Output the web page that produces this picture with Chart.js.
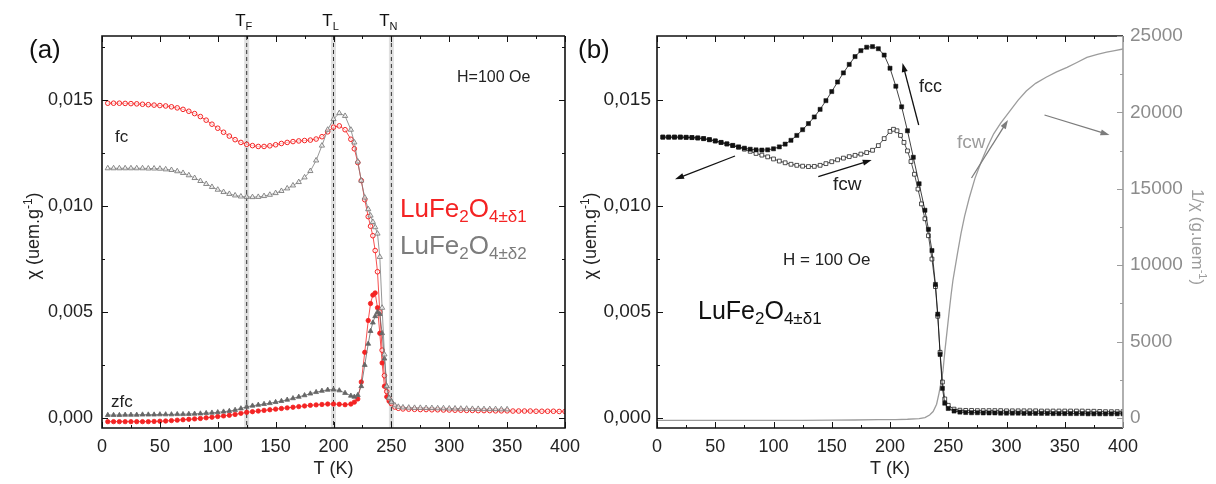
<!DOCTYPE html>
<html>
<head>
<meta charset="utf-8">
<script src="https://cdn.jsdelivr.net/npm/chart.js@4.4.1/dist/chart.umd.min.js"></script>
<style>
  body { margin: 0; background: #fff; width: 1216px; height: 484px; overflow: hidden; position: relative; }
  #wrapA { position: absolute; left: 0; top: 0; width: 600px; height: 484px; }
  #wrapB { position: absolute; left: 570px; top: 0; width: 646px; height: 484px; }
</style>
</head>
<body>
<div id="wrapA"><canvas id="chartA" width="600" height="484"></canvas></div>
<div id="wrapB"><canvas id="chartB" width="646" height="484"></canvas></div>
<script>
var FONT = '"Liberation Sans", Arial, sans-serif';
var RED = "#f42323";
var GREY = "#7c7c7c";
var GREY_LIGHT = "#9c9c9c";

// ---- panel (a): LuFe2O4 d1 (red) and d2 (grey), fc / zfc ----
var tempZfc = [5,10,15,20,25,30,35,40,45,50,55,60,65,70,75,80,85,90,95,100,105,110,115,120,125,130,135,140,145,150,155,160,165,170,175,180,185,190,195,200,205,210,215,
  218,221,224,227,230,232,234,236,238,240,242,244,246,248,250];
var tempFc1 = tempZfc.concat([253,256,260,265,270,275,280,285,290,295,300,305,310,315,320,325,330,335,340,345,350,355,360,365,370,375,380,385,390,395,400]);
var tempFc2 = tempZfc.concat([253,256,260,265,270,275,280,285,290,295,300,305,310,315,320,325,330,335,340,345,350]);

var chiFc1 = [.01485,.01485,.01485,.01484,.01483,.01482,.0148,.01478,.01476,.01474,.01472,.01468,.01463,.01456,.01447,.01436,.01422,.01405,.01386,.01367,
  .01348,.0133,.01313,.013,.01291,.01285,.01281,.01281,.01284,.01289,.01295,.013,.01304,.01307,.01309,.01311,.01316,.01327,.0135,.01372,.01378,.0136,.01315,
  .0127,.01205,.0112,.0103,.0095,.00905,.0086,.0079,.0069,.005,.0032,.002,.00125,.0009,.00068,
  .00052,.00046,.00043,.00042,.00041,.0004,.0004,.00039,.00039,.00038,.00038,.00037,.00037,.00036,.00036,.00035,.00035,.00035,.00034,.00034,.00034,
  .00033,.00033,.00033,.00033,.00032,.00032,.00032,.00032,.00031,.00031];
var chiFc2 = [.01178,.01178,.01178,.01178,.01178,.01178,.01178,.01177,.01177,.01176,.01173,.0117,.01164,.01156,.01145,.01132,.01118,.01104,.0109,.01077,
  .01066,.01057,.0105,.01045,.01043,.01042,.01043,.01047,.01053,.01061,.01071,.01083,.01097,.01113,.01135,.01165,.01215,.01285,.0136,.0141,.01438,.01425,.0136,
  .013,.0121,.0112,.0104,.00985,.00955,.00925,.009,.0087,.0076,.0052,.003,.0015,.00095,.00075,
  .0006,.00053,.0005,.00049,.00048,.00048,.00047,.00047,.00046,.00046,.00045,.00045,.00044,.00044,.00043,.00043,.00042,.00042,.00042,.00041,.00041];
var chiZfc1 = [-.00017,-.00017,-.00017,-.00017,-.00017,-.00017,-.00017,-.00017,-.00016,-.00015,-.00014,-.00012,-.0001,-.00008,-.00006,-.00004,-.00002,.00001,.00004,.00007,
  .0001,.00013,.00017,.00022,.00027,.0003,.00033,.00036,.00039,.00042,.00045,.00048,.00051,.00054,.00057,.0006,.00062,.00064,.00066,.00066,.00065,.00063,.00066,
  .00075,.0009,.0017,.0031,.0046,.0054,.0058,.0059,.0052,.004,.0026,.0015,.001,.0008,.0007];
var chiZfc2 = [.00014,.00014,.00014,.00015,.00015,.00015,.00016,.00016,.00016,.00017,.00017,.00017,.00018,.00018,.00019,.0002,.00021,.00023,.00025,.00027,
  .0003,.00033,.00038,.00045,.00053,.00058,.00062,.00066,.0007,.00075,.0008,.00086,.00093,.001,.00107,.00115,.00122,.00128,.00133,.00134,.0013,.00118,.00105,
  .001,.00108,.0015,.0025,.0035,.0041,.0045,.0048,.005,.0049,.004,.0028,.0015,.00095,.0008];

var transTemps = [125, 200, 250];
var transNames = ["F", "L", "N"];

// ---- panel (b): LuFe2O4 d1, fcc / fcw and 1/chi ----
var tempFcc = [5,10,15,20,25,30,35,40,45,50,55,60,65,70,75,80,85,90,95,100,105,110,115,120,125,130,135,140,145,150,155,160,165,170,175,180,185,190,195,200,205,210,215,220,225,230,
  233,236,239,241,243,245,247,250,255,260,
  265,270,275,280,285,290,295,300,305,310,315,320,325,330,335,340,345,350,355,360,365,370,375,380,385,390,395,400];
var chiFcc = [.01325,.01325,.01325,.01325,.01324,.01323,.01321,.01318,.01313,.01307,.013,.01293,.01286,.01279,.01273,.01268,.01265,.01264,.01265,.0127,
  .01279,.01292,.0131,.01333,.0136,.01389,.0142,.01456,.01497,.0154,.01585,.01628,.01668,.01705,.01733,.01749,.01752,.01742,.01712,.0165,.01565,.01468,.01355,.0123,.01105,.0098,
  .0089,.0079,.0063,.0049,.003,.0014,.0007,.00045,.00033,.00028,
  .00026,.00025,.00025,.00024,.00024,.00024,.00023,.00023,.00023,.00023,.00022,.00022,.00022,.00022,.00022,.00021,.00021,.00021,.00021,.00021,.00021,.0002,.0002,.0002,.0002,.0002,.0002,.0002];
var tempFcw = [5,10,15,20,25,30,35,40,45,50,55,60,65,70,75,80,85,90,95,100,105,110,115,120,125,130,135,140,145,150,155,160,165,170,175,180,185,190,195,200,
  203,206,209,212,215,218,221,224,227,230,233,236,239,241,243,245,247,250,255,260,
  265,270,275,280,285,290,295,300,305,310,315,320,325,330,335,340,345,350,355,360,365,370,375,380,385,390,395,400];
var chiFcw = [.01325,.01325,.01325,.01325,.01324,.01323,.01321,.01318,.01313,.01307,.013,.01293,.01285,.01277,.01268,.01258,.01248,.0124,.01232,.01222,
  .01212,.01204,.01197,.01192,.01188,.01186,.01187,.01192,.012,.01209,.01218,.01226,.01233,.01239,.01245,.01252,.01263,.01285,.01318,.01352,
  .01362,.01355,.01333,.013,.0126,.0121,.0115,.0108,.0101,.0094,.0086,.0075,.0062,.0048,.0031,.0017,.0009,.0006,.00042,.00037,
  .00036,.00036,.00035,.00035,.00035,.00035,.00035,.00034,.00034,.00034,.00034,.00034,.00034,.00033,.00033,.00033,.00033,.00033,.00033,.00033,.00033,.00032,.00032,.00031,.0003,.0003,.0003,.0003];
var tempInv = [0,25,50,75,100,125,150,170,190,205,215,225,230,234,237,240,242,244,245.5,247,249,251,252.5,254,256,258,261,264,268,273,278.5,284,289,295,303,310,317,325,334,343,352,360,369,378,386,393,400];
var invChi = [-150,-150,-150,-150,-150,-150,-140,-130,-110,-100,-80,-40,30,200,420,900,1600,2400,3100,4300,5700,7100,8100,9000,9900,10800,12100,13200,14400,15700,16800,17800,18600,19300,20100,20800,21400,21900,22300,22650,22950,23250,23600,23800,23950,24050,24150];

// axis ticks
var xLabels = [0,50,100,150,200,250,300,350,400];
var xTickMarks = [0,25,50,75,100,125,150,175,200,225,250,275,300,325,350,375,400];
var yLabels = [0, 0.005, 0.010, 0.015];
var yTickMarks = [0, 0.0025, 0.005, 0.0075, 0.010, 0.0125, 0.015, 0.0175];
var y2Labels = [0,5000,10000,15000,20000,25000];
var y2TickMarks = [0,2500,5000,7500,10000,12500,15000,17500,20000,22500,25000];

function pontos(ts, vs) {
    return ts.map((t, i) => ({ x: t, y: vs[i] }));
}

function richText(ctx, parts, x, y, align) {
    let w = 0;
    parts.forEach(p => { ctx.font = p[1] + "px " + FONT; w += ctx.measureText(p[0]).width; });
    let cx = align === "center" ? x - w / 2 : x;
    ctx.textAlign = "left";
    ctx.textBaseline = "alphabetic";
    parts.forEach(p => {
        ctx.font = p[1] + "px " + FONT;
        ctx.fillText(p[0], cx, y + (p[2] || 0));
        cx += ctx.measureText(p[0]).width;
    });
}

function rotatedText(ctx, parts, cx, cy, angle, size) {
    ctx.save();
    ctx.translate(cx, cy);
    ctx.rotate(angle);
    richText(ctx, parts, 0, size * 0.35, "center");
    ctx.restore();
}

function arrow(ctx, x1, y1, x2, y2, color) {
    const ang = Math.atan2(y2 - y1, x2 - x1);
    ctx.save();
    ctx.strokeStyle = color;
    ctx.fillStyle = color;
    ctx.lineWidth = 1.3;
    ctx.beginPath();
    ctx.moveTo(x1, y1);
    ctx.lineTo(x2 - 6 * Math.cos(ang), y2 - 6 * Math.sin(ang));
    ctx.stroke();
    ctx.beginPath();
    ctx.moveTo(x2, y2);
    ctx.lineTo(x2 - 9 * Math.cos(ang) + 3 * Math.sin(ang), y2 - 9 * Math.sin(ang) - 3 * Math.cos(ang));
    ctx.lineTo(x2 - 9 * Math.cos(ang) - 3 * Math.sin(ang), y2 - 9 * Math.sin(ang) + 3 * Math.cos(ang));
    ctx.closePath();
    ctx.fill();
    ctx.restore();
}

// frame with inward ticks, like the Origin plot
function drawFrame(chart, mirrorY, rightScale) {
    const ctx = chart.ctx, a = chart.chartArea, x = chart.scales.x, y = chart.scales.y;
    ctx.save();
    ctx.lineWidth = 1;
    ctx.strokeStyle = "#111";
    xTickMarks.forEach(v => {
        const px = Math.round(x.getPixelForValue(v)) + 0.5;
        const len = v % 50 === 0 ? 6 : 3;
        ctx.beginPath();
        ctx.moveTo(px, a.bottom); ctx.lineTo(px, a.bottom - len);
        ctx.moveTo(px, a.top); ctx.lineTo(px, a.top + len);
        ctx.stroke();
    });
    yTickMarks.forEach((v, i) => {
        const py = Math.round(y.getPixelForValue(v)) + 0.5;
        const len = i % 2 === 0 ? 6 : 3;
        ctx.beginPath();
        ctx.moveTo(a.left, py); ctx.lineTo(a.left + len, py);
        if (mirrorY) { ctx.moveTo(a.right, py); ctx.lineTo(a.right - len, py); }
        ctx.stroke();
    });
    ctx.lineWidth = 1.6;
    ctx.beginPath();
    ctx.moveTo(a.right, a.top); ctx.lineTo(a.left, a.top); ctx.lineTo(a.left, a.bottom); ctx.lineTo(a.right, a.bottom);
    if (!rightScale) ctx.lineTo(a.right, a.top);
    ctx.stroke();
    if (rightScale) {
        const y2 = chart.scales[rightScale];
        ctx.strokeStyle = GREY_LIGHT;
        ctx.beginPath();
        ctx.moveTo(a.right, a.top); ctx.lineTo(a.right, a.bottom);
        ctx.stroke();
        ctx.lineWidth = 1;
        y2TickMarks.forEach(v => {
            const py = Math.round(y2.getPixelForValue(v)) + 0.5;
            const len = v % 5000 === 0 ? 6 : 3;
            ctx.beginPath();
            ctx.moveTo(a.right, py); ctx.lineTo(a.right - len, py);
            ctx.stroke();
        });
    }
    ctx.restore();
}

function formatChi(v) {
    return v.toFixed(3).replace(".", ",");
}

function baseX() {
    return {
        type: "linear", min: 0, max: 400,
        afterBuildTicks: s => { s.ticks = xLabels.map(v => ({ value: v })); },
        afterFit: s => { s.height = 56; },
        grid: { display: false, drawTicks: false },
        border: { display: false },
        ticks: { padding: 8, color: "#222", font: { family: FONT, size: 18 }, maxRotation: 0, autoSkip: false }
    };
}

function baseY(width, pad, size) {
    return {
        type: "linear", position: "left", min: -0.00047, max: 0.01802,
        afterBuildTicks: s => { s.ticks = yLabels.map(v => ({ value: v })); },
        afterFit: s => { s.width = width; },
        grid: { display: false, drawTicks: false },
        border: { display: false },
        ticks: { padding: pad, color: "#222", font: { family: FONT, size: size }, callback: formatChi, autoSkip: false }
    };
}

// ---------------- chart (a) ----------------
var pluginA = {
    id: "panelA",
    beforeDatasetsDraw(chart) {
        const ctx = chart.ctx, a = chart.chartArea, x = chart.scales.x;
        ctx.save();
        transTemps.forEach(t => {
            const px = x.getPixelForValue(t);
            ctx.strokeStyle = "rgba(0,0,0,0.12)";
            ctx.lineWidth = 5;
            ctx.setLineDash([]);
            ctx.beginPath(); ctx.moveTo(px, a.top); ctx.lineTo(px, a.bottom); ctx.stroke();
            ctx.strokeStyle = "#333";
            ctx.lineWidth = 1;
            ctx.setLineDash([4, 3]);
            ctx.beginPath(); ctx.moveTo(px, a.top); ctx.lineTo(px, a.bottom); ctx.stroke();
        });
        ctx.restore();
    },
    afterDraw(chart) {
        const ctx = chart.ctx, a = chart.chartArea, x = chart.scales.x;
        drawFrame(chart, true, null);
        ctx.save();
        ctx.fillStyle = "#111";
        richText(ctx, [["(a)", 26]], 29, 58, "left");
        transTemps.forEach((t, i) => {
            const px = x.getPixelForValue(t);
            richText(ctx, [["T", 17], [transNames[i], 11, 4]], px - 3, 26, "center");
        });
        ctx.fillStyle = "#222";
        richText(ctx, [["H=100 Oe", 16]], 457, 82, "left");
        richText(ctx, [["fc", 17]], 115, 142, "left");
        richText(ctx, [["zfc", 17]], 111, 407, "left");
        ctx.fillStyle = RED;
        richText(ctx, [["LuFe", 26], ["2", 17, 5], ["O", 26], ["4±δ1", 17, 5]], 400, 217, "left");
        ctx.fillStyle = GREY;
        richText(ctx, [["LuFe", 26], ["2", 17, 5], ["O", 26], ["4±δ2", 17, 5]], 400, 254, "left");
        ctx.fillStyle = "#222";
        richText(ctx, [["T (K)", 18]], (a.left + a.right) / 2, 474, "center");
        rotatedText(ctx, [["χ (uem.g", 18], ["-1", 12, -7], [")", 18]], 33, 236, -Math.PI / 2, 18);
        ctx.restore();
    }
};

new Chart(document.getElementById("chartA"), {
    type: "line",
    data: {
        datasets: [
            { label: "fc d2", data: pontos(tempFc2, chiFc2), borderColor: GREY, borderWidth: 0.8,
              pointStyle: "triangle", pointRadius: 3, pointBorderColor: GREY, pointBackgroundColor: "rgba(255,255,255,0.6)", pointBorderWidth: 0.9 },
            { label: "zfc d2", data: pontos(tempZfc, chiZfc2), borderColor: "#666", borderWidth: 0.8,
              pointStyle: "triangle", pointRadius: 2.8, pointBorderColor: "#666", pointBackgroundColor: "#666", pointBorderWidth: 0.8 },
            { label: "fc d1", data: pontos(tempFc1, chiFc1), borderColor: RED, borderWidth: 0.8,
              pointStyle: "circle", pointRadius: 2.3, pointBorderColor: RED, pointBackgroundColor: "rgba(255,255,255,0.6)", pointBorderWidth: 1 },
            { label: "zfc d1", data: pontos(tempZfc, chiZfc1), borderColor: RED, borderWidth: 0.8,
              pointStyle: "circle", pointRadius: 2.2, pointBorderColor: RED, pointBackgroundColor: RED, pointBorderWidth: 0.8 }
        ]
    },
    options: {
        responsive: false,
        animation: false,
        devicePixelRatio: 1,
        layout: { padding: { top: 36, right: 35, left: 0, bottom: 0 } },
        plugins: { legend: { display: false }, tooltip: { enabled: false } },
        elements: { line: { tension: 0 } },
        scales: { x: baseX(), y: baseY(102, 9, 18) }
    },
    plugins: [pluginA]
});

// ---------------- chart (b) ----------------
var OFF = 570;
var pluginB = {
    id: "panelB",
    afterDraw(chart) {
        const ctx = chart.ctx, a = chart.chartArea;
        drawFrame(chart, false, "y2");
        ctx.save();
        ctx.fillStyle = "#111";
        richText(ctx, [["(b)", 26]], 578 - OFF, 58, "left");
        ctx.fillStyle = "#222";
        richText(ctx, [["fcc", 18]], 919 - OFF, 92, "left");
        richText(ctx, [["fcw", 19]], 833 - OFF, 190, "left");
        richText(ctx, [["H = 100 Oe", 17]], 783 - OFF, 265, "left");
        ctx.fillStyle = "#111";
        richText(ctx, [["LuFe", 25], ["2", 17, 5], ["O", 25], ["4±δ1", 17, 5]], 698 - OFF, 319, "left");
        ctx.fillStyle = GREY_LIGHT;
        richText(ctx, [["fcw", 19]], 957 - OFF, 148, "left");
        arrow(ctx, 971.5 - OFF, 178, 1008 - OFF, 120, GREY);
        arrow(ctx, 1044.5 - OFF, 115, 1109.5 - OFF, 135, GREY);
        arrow(ctx, 918.7 - OFF, 125, 902.5 - OFF, 63, "#111");
        arrow(ctx, 818.3 - OFF, 176.7, 871.7 - OFF, 160, "#111");
        arrow(ctx, 735 - OFF, 156, 675 - OFF, 179.3, "#111");
        ctx.fillStyle = "#222";
        richText(ctx, [["T (K)", 18]], (a.left + a.right) / 2, 474, "center");
        rotatedText(ctx, [["χ (uem.g", 18], ["-1", 12, -7], [")", 18]], 590 - OFF, 236, -Math.PI / 2, 18);
        ctx.fillStyle = GREY_LIGHT;
        rotatedText(ctx, [["1/χ (g.uem", 17], ["-1", 11, -7], [")", 17]], 1198 - OFF, 237, Math.PI / 2, 17);
        ctx.restore();
    }
};

new Chart(document.getElementById("chartB"), {
    type: "line",
    data: {
        datasets: [
            { label: "fcc", data: pontos(tempFcc, chiFcc), yAxisID: "y", borderColor: "#111", borderWidth: 0.8,
              pointStyle: "rect", pointRadius: 2.9, pointBorderColor: "#111", pointBackgroundColor: "#111", pointBorderWidth: 0.5 },
            { label: "fcw", data: pontos(tempFcw, chiFcw), yAxisID: "y", borderColor: "#222", borderWidth: 0.8,
              pointStyle: "rect", pointRadius: 2.7, pointBorderColor: "#222", pointBackgroundColor: "#fff", pointBorderWidth: 0.8 },
            { label: "1/chi", data: pontos(tempInv, invChi), yAxisID: "y2", borderColor: GREY_LIGHT, borderWidth: 1.3,
              pointRadius: 0 }
        ]
    },
    options: {
        responsive: false,
        animation: false,
        devicePixelRatio: 1,
        layout: { padding: { top: 36, right: 0, left: 0, bottom: 0 } },
        plugins: { legend: { display: false }, tooltip: { enabled: false } },
        elements: { line: { tension: 0 } },
        scales: {
            x: baseX(),
            y: baseY(87, 6, 19),
            y2: {
                type: "linear", position: "right", min: -654, max: 25000,
                afterBuildTicks: s => { s.ticks = y2Labels.map(v => ({ value: v })); },
                afterFit: s => { s.width = 93; },
                grid: { display: false, drawTicks: false },
                border: { display: false },
                ticks: { padding: 7, color: "#8c8c8c", font: { family: FONT, size: 19 }, autoSkip: false,
                         callback: v => String(v) }
            }
        }
    },
    plugins: [pluginB]
});
</script>
</body>
</html>
